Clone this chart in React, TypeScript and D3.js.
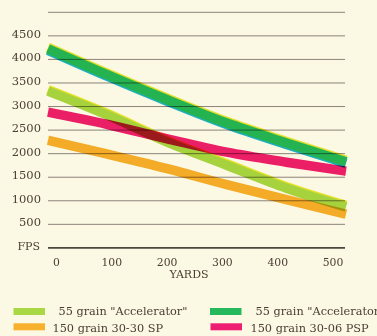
import React from "react";
import * as d3 from "d3";

const W = 377;
const H = 336;

const yards = [0, 100, 200, 300, 400, 500];
const yTicks = [500, 1000, 1500, 2000, 2500, 3000, 3500, 4000, 4500];
const gridValues = [0, 500, 1000, 1500, 2000, 2500, 3000, 3500, 4000, 4500, 5000];
const xTicks = [0, 100, 200, 300, 400, 500];

const accel3030 = [3328, 2817, 2244, 1755, 1268, 870];
const accel3006 = [4224, 3670, 3144, 2649, 2227, 1825];
const sp3030 = [2286, 1989, 1681, 1342, 1023, 715];
const psp3006 = [2880, 2619, 2314, 2031, 1819, 1628];

const seriesNames = [
  '55 grain "Accelerator"',
  '55 grain "Accelerator"',
  "150 grain 30-30 SP",
  "150 grain 30-06 PSP",
];
const seriesColors = ["#a9d845", "#25b85c", "#f8b12c", "#ee1f72"];

const BG = "#fbf8e4";
const TEXT = "#4a3d33";
const FONT = "'DejaVu Serif', serif";

export default function App() {
  const xLine = d3.scaleLinear().domain([0, 500]).range([48, 346]);
  const xLabel = d3.scaleLinear().domain([0, 500]).range([56.5, 333]);
  const y = d3.scaleLinear().domain([0, 5000]).range([247.9, 12.3]);

  const line = d3
    .line<number>()
    .x((_, i) => xLine(yards[i]))
    .y((d) => y(d))
    .curve(d3.curveMonotoneX);

  const series = [
    { name: seriesNames[2], values: sp3030, color: seriesColors[2], top: null, bottom: null },
    { name: seriesNames[0], values: accel3030, color: seriesColors[0], top: "#e6e82a", bottom: null },
    { name: seriesNames[3], values: psp3006, color: seriesColors[3], top: null, bottom: null },
    { name: seriesNames[1], values: accel3006, color: seriesColors[1], top: "#e4e52a", bottom: "#1fb5d6" },
  ];

  const legend = [
    { name: seriesNames[0], color: seriesColors[0], x: 13.5, y: 308, tx: 58.5, ty: 314.5 },
    { name: seriesNames[2], color: seriesColors[2], x: 13.5, y: 323.3, tx: 52.5, ty: 331.5 },
    { name: seriesNames[1], color: seriesColors[1], x: 210, y: 308, tx: 255.5, ty: 314.5 },
    { name: seriesNames[3], color: seriesColors[3], x: 210.5, y: 323.3, tx: 250.5, ty: 331.5 },
  ];

  return (
    <svg
      width={W}
      height={H}
      style={{ position: "absolute", left: 0, top: 0, display: "block" }}
      fontFamily={FONT}
    >
      <rect x={0} y={0} width={W} height={H} fill={BG} />
      {gridValues.map((v) => (
        <line
          key={v}
          x1={48}
          x2={345}
          y1={y(v)}
          y2={y(v)}
          stroke={v === 0 ? "#4f4640" : "#8d8379"}
          strokeWidth={v === 0 ? 1.6 : 1}
        />
      ))}
      {yTicks.map((v) => (
        <text key={v} x={41} y={y(v) + 2} textAnchor="end" fontSize={11.5} fill={TEXT}>
          {v}
        </text>
      ))}
      <text x={40} y={y(0) + 2} textAnchor="end" fontSize={11} fill={TEXT}>
        FPS
      </text>
      {xTicks.map((v) => (
        <text key={v} x={xLabel(v)} y={265.5} textAnchor="middle" fontSize={10.8} fill={TEXT}>
          {v}
        </text>
      ))}
      <text x={189} y={277.5} textAnchor="middle" fontSize={11} fill={TEXT}>
        YARDS
      </text>
      {series.map((s, i) => (
        <g key={i} style={{ mixBlendMode: "multiply" }}>
          {s.top && (
            <path d={line(s.values) || ""} transform="translate(0,-1.5)" fill="none" stroke={s.top} strokeWidth={9.5} />
          )}
          {s.bottom && (
            <path d={line(s.values) || ""} transform="translate(0,1.5)" fill="none" stroke={s.bottom} strokeWidth={9.5} />
          )}
          <path d={line(s.values) || ""} fill="none" stroke={s.color} strokeWidth={9.5} />
        </g>
      ))}
      {legend.map((l, i) => (
        <g key={i}>
          <rect x={l.x} y={l.y} width={31.5} height={7} fill={l.color} />
          <text x={l.tx} y={l.ty} fontSize={11.3} fill={TEXT}>
            {l.name}
          </text>
        </g>
      ))}
    </svg>
  );
}
